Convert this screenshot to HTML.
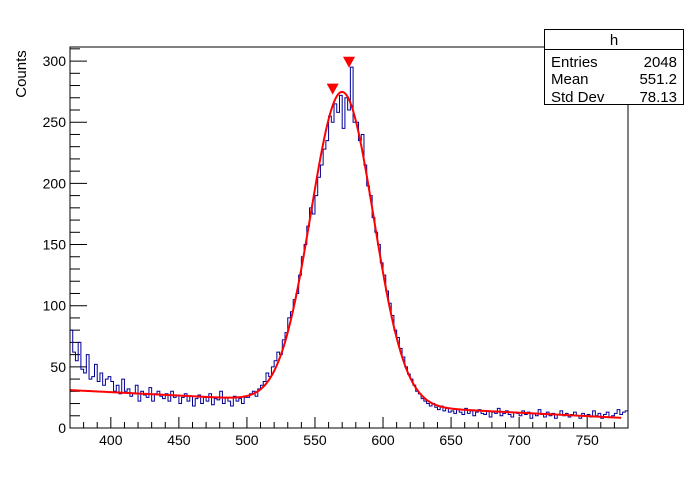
<!DOCTYPE html>
<html><head><meta charset="utf-8"><style>
body{margin:0;background:#fff;}
svg text{font-family:"Liberation Sans",sans-serif;}
</style></head><body>
<svg id="c" width="698" height="476" xmlns="http://www.w3.org/2000/svg">
<rect width="698" height="476" fill="#fff"/>
<g id="ticks"></g>
<path id="hist" fill="none" stroke="#000099" stroke-width="1"/>
<path id="fit" fill="none" stroke="#ff0000" stroke-width="2"/>
<g id="marks"></g>
<rect x="70" y="47" width="558" height="381" fill="none" stroke="#000"/>
<text x="26" y="74" font-size="15" text-anchor="middle" transform="rotate(-90 26 74)">Counts</text>
<g>
<rect x="544.5" y="29.5" width="139" height="75" fill="#fff" stroke="#000"/>
<line x1="544.5" y1="49.5" x2="683.5" y2="49.5" stroke="#000"/>
<text x="614" y="45" font-size="15" text-anchor="middle">h</text>
<text x="551" y="67" font-size="15">Entries</text>
<text x="677" y="67" font-size="15" text-anchor="end">2048</text>
<text x="551" y="84" font-size="15">Mean</text>
<text x="677" y="84" font-size="15" text-anchor="end">551.2</text>
<text x="551" y="102" font-size="15">Std Dev</text>
<text x="677" y="102" font-size="15" text-anchor="end">78.13</text>
</g>
</svg>
<script>
const binStart = 370;
const binWidth = 2;
const counts = [80,62,55,70,48,45,60,40,42,52,38,45,35,40,42,
38,30,35,28,40,30,32,26,28,35,22,30,27,25,33,22,28,30,26,24,28,22,30,25,27,
20,25,28,22,26,18,24,27,20,25,22,28,19,24,23,30,20,25,22,18,26,22,24,20,25,
25,28,30,26,32,35,38,45,42,50,55,62,60,72,78,90,95,105,110,125,
140,150,165,180,175,190,205,215,228,235,255,250,265,258,272,245,270,260,295,250,250,235,240,215,198,190,172,160,150,135,
125,112,102,92,80,74,65,58,50,44,40,35,30,28,24,22,20,18,20,17,15,18,14,16,13,
14,12,15,13,11,16,12,14,10,13,15,12,11,14,9,13,12,16,10,12,14,11,9,13,12,10,14,11,13,8,12,10,15,11,9,13,10,12,8,11,14,10,12,9,11,13,10,8,12,10,11,9,14,10,12,8,11,13,9,10,12,15,11,13,14];
const fitParams = [255, 570, 23, 31, -0.056]; // amp, mean, sigma, bg0 at 370, slope
const peakX = [563, 575];
const peakY = [275, 297];
const xTicks = [400,450,500,550,600,650,700,750];
const yTicks = [0,50,100,150,200,250,300];

const X0=370,X1=780,Y0=0,Y1=311.5,L=70,R=628,T=47,B=428;
const sx=v=>L+(v-X0)/(X1-X0)*(R-L);
const sy=v=>B-(v-Y0)/(Y1-Y0)*(B-T);
const NS='http://www.w3.org/2000/svg';
function mk(tag,attrs,parent){const e=document.createElementNS(NS,tag);for(const k in attrs)e.setAttribute(k,attrs[k]);parent.appendChild(e);return e;}
const tg=document.getElementById('ticks');
for(let v=X0;v<=X1;v+=10){const maj=v%50===0;
 const t=mk('line',{x1:sx(v),x2:sx(v),y1:B,y2:B-(maj?11:6),stroke:'#000'},tg);
 
 }
xTicks.forEach(v=>{const t=mk('text',{x:sx(v),y:B+17,'font-size':14,'text-anchor':'middle'},tg);t.textContent=v;
 
 });
for(let v=0;v<=310;v+=10){const maj=v%50===0;
 const t=mk('line',{x1:L,x2:L+(maj?17:10),y1:sy(v),y2:sy(v),stroke:'#000'},tg);
 
 }
yTicks.forEach(v=>{const t=mk('text',{x:L-4,y:sy(v)+5,'font-size':14,'text-anchor':'end'},tg);t.textContent=v;
 
 });
let d='';
counts.forEach((c,i)=>{const x0=sx(binStart+i*binWidth),x1=sx(binStart+(i+1)*binWidth),y=sy(c);
 d+=(i===0?'M'+x0+','+y:'L'+x0+','+y)+' L'+x1+','+y+' ';});
document.getElementById('hist').setAttribute('d',d);
let f='';
for(let v=X0;v<=775;v+=1){const [a,m,s,b0,b1]=fitParams;const y=a*Math.exp(-((v-m)**2)/(2*s*s))+b0+b1*(v-X0);
 f+=(v===X0?'M':'L')+sx(v)+','+sy(y)+' ';}
document.getElementById('fit').setAttribute('d',f);
const mg=document.getElementById('marks');
peakX.forEach((px,i)=>{const x=sx(px),y=sy(peakY[i]);
 const p=mk('polygon',{points:(x-6)+','+(y-8)+' '+(x+6)+','+(y-8)+' '+x+','+(y+3),fill:'#ff0000'},mg);
 
 });
</script>
</body></html>
